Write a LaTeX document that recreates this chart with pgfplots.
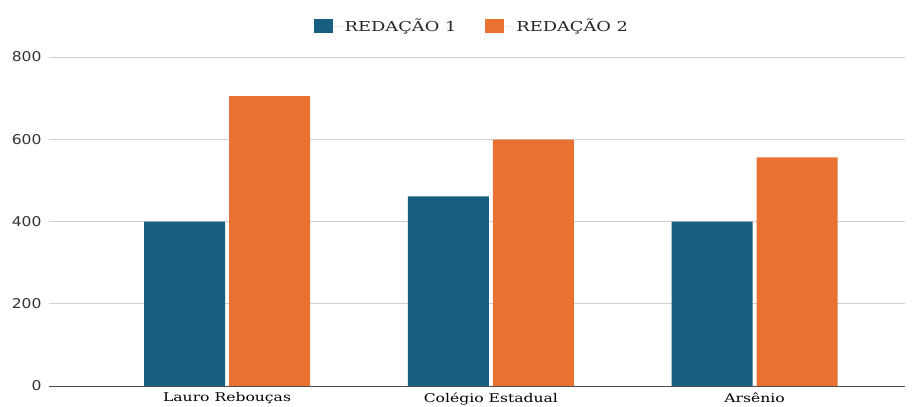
\documentclass[border=0pt]{standalone}
\usepackage{pgfplots}
\pgfplotsset{compat=1.18}
\usepackage{fontspec}
\setmainfont{DejaVu Serif}[FakeStretch=1.3]
\newfontfamily\tickfont{DejaVu Sans}[FakeStretch=1.15]
\definecolor{rblue}{RGB}{24,94,128}
\definecolor{rorange}{RGB}{233,114,51}
\definecolor{gridc}{RGB}{208,208,208}
\begin{document}
\begin{tikzpicture}
\path[use as bounding box] (-49pt,-21pt) rectangle (870pt,386pt);
\begin{axis}[
  at={(0,0)}, anchor=south west,
  scale only axis, width=856pt, height=329pt,
  ymin=0, ymax=800, ytick={0,200,400,600,800},
  xmin=-0.675, xmax=2.57,
  xtick=data, xticklabels={Lauro Rebouças, Colégio Estadual, Arsênio},
  ybar=4pt, bar width=81pt,
  axis x line*=bottom, axis y line*=left,
  y axis line style={draw=none},
  x axis line style={draw=black!70, -},
  ymajorgrids, major grid style={gridc, line width=0.8pt},
  major tick length=0pt,
  yticklabel style={font=\tickfont\fontsize{13.5}{13.5}\selectfont, text=black!80, xshift=-4pt},
  xticklabel style={font=\fontsize{12}{12}\selectfont, yshift=-3pt},
  /pgf/number format/assume math mode=true,
  legend style={at={(0.494,1.094)}, anchor=center, draw=none, legend columns=2,
    font=\fontsize{13.7}{13.7}\selectfont, text=black!85,
    /tikz/every even column/.append style={column sep=27pt}},
  legend image code/.code={\path (0pt,0pt) -- (29pt,0pt);\fill[#1] (0pt,-7pt) rectangle (19pt,7pt);},
  clip=false,
]
\addplot[fill=rblue, draw=none] coordinates {(0,400) (1,461) (2,400)};
\addplot[fill=rorange, draw=none] coordinates {(0,705) (1,599) (2,556)};
\legend{REDAÇÃO 1, REDAÇÃO 2}
\end{axis}
\end{tikzpicture}
\end{document}
